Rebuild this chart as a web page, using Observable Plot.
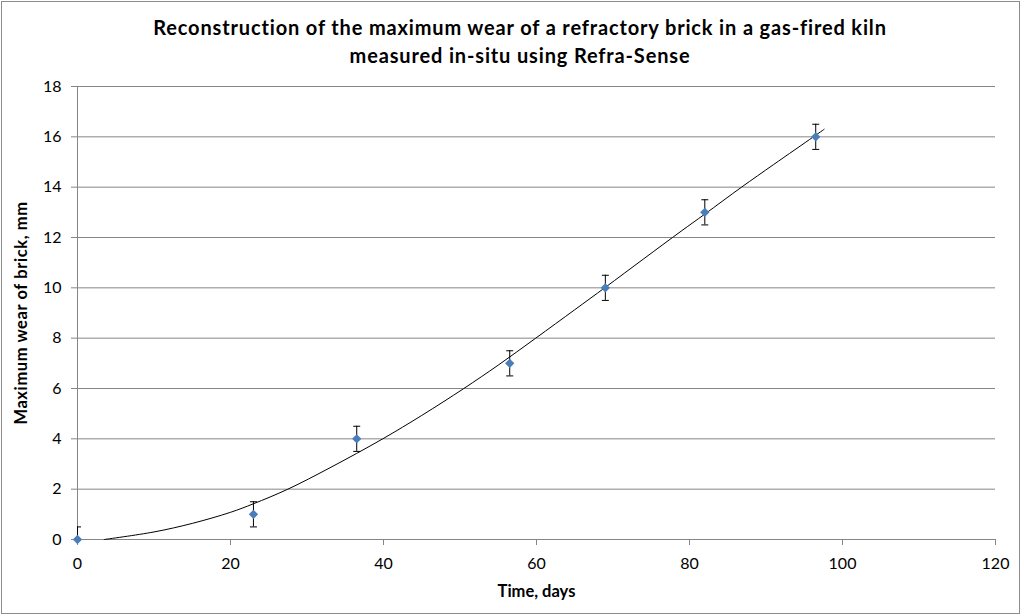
<!DOCTYPE html>
<html>
<head>
<meta charset="utf-8">
<script src="https://cdn.jsdelivr.net/npm/d3@7"></script>
<script src="https://cdn.jsdelivr.net/npm/@observablehq/plot@0.6"></script>
<style>
  html, body { margin: 0; padding: 0; background: #fff; }
  #wrap { position: relative; width: 1024px; height: 616px; overflow: hidden; font-family: Lato, "Open Sans", sans-serif; }
  #frame { position: absolute; left: 1px; top: 1px; width: 1019px; height: 613px; border: 1px solid #8c8c8c; box-sizing: border-box; pointer-events: none; }
  #title { position: absolute; left: 8px; width: 1024px; top: 13px; text-align: center; font-weight: bold; font-size: 20px; letter-spacing: 0.85px; line-height: 28px; color: #000; }
  #chart { position: absolute; left: 0; top: 0; }
</style>
</head>
<body>
<div id="wrap">
  <div id="chart"></div>
  <div id="title">Reconstruction of the maximum wear of a refractory brick in a gas-fired kiln<br>measured in-situ using Refra-Sense</div>
  <div id="frame"></div>
</div>
<script>
// Measured points
const days = [0, 23, 36.5, 56.5, 69, 82, 96.5];
const wearMm = [0, 1, 4, 7, 10, 13, 16];
const errMm = [0.5, 0.5, 0.5, 0.5, 0.5, 0.5, 0.5];

// Fitted trend line
const fitDays = [3.5, 10, 15, 20, 23, 27.5, 33, 39.9, 45, 50.5, 55, 59.9, 65, 69, 74, 78.9, 82, 86.8, 91, 96.2, 97.6];
const fitWear = [0, 0.3, 0.64, 1.08, 1.42, 2, 2.85, 4, 4.93, 6, 6.93, 8, 9.13, 10.02, 11.15, 12.25, 12.93, 14, 14.9, 16, 16.3];

// Axis ticks
const xTicks = [0, 20, 40, 60, 80, 100, 120];
const yTicks = [0, 2, 4, 6, 8, 10, 12, 14, 16, 18];

const points = days.map((t, i) => ({t, w: wearMm[i], lo: wearMm[i] - errMm[i], hi: wearMm[i] + errMm[i]}));
const fit = fitDays.map((t, i) => ({t, w: fitWear[i]}));

const cap = {
  draw(ctx) { ctx.moveTo(-3.5, 0); ctx.lineTo(3.5, 0); }
};

const axisColor = "#868686";

const chart = Plot.plot({
  width: 1024,
  height: 616,
  marginTop: 86,
  marginBottom: 77,
  marginLeft: 77,
  marginRight: 29,
  style: {fontFamily: "Lato, 'Open Sans', sans-serif", fontSize: "16px", color: "#000", background: "transparent"},
  x: {domain: [0, 120]},
  y: {domain: [0, 18]},
  marks: [
    Plot.gridY(yTicks, {stroke: axisColor, strokeOpacity: 1, strokeWidth: 1}),
    Plot.ruleX([0], {stroke: axisColor}),
    Plot.ruleY([0], {stroke: axisColor}),
    Plot.axisX(xTicks, {
      tickSize: 6, tickPadding: 12, stroke: axisColor, strokeOpacity: 1,
      label: "Time, days", labelAnchor: "center", labelOffset: 57, labelArrow: "none",
      fontSize: 16
    }),
    Plot.axisY(yTicks, {
      tickSize: 6, tickPadding: 10, stroke: axisColor, strokeOpacity: 1,
      label: "Maximum wear of brick, mm", labelAnchor: "center", labelOffset: 62, labelArrow: "none",
      fontSize: 16
    }),
    Plot.line(fit, {x: "t", y: "w", curve: "catmull-rom", stroke: "#000", strokeWidth: 1}),
    Plot.ruleX(points, {x: "t", y1: "lo", y2: "hi", stroke: "#000", strokeWidth: 1, clip: true}),
    Plot.dot(points, {x: "t", y: "hi", symbol: cap, r: 3, stroke: "#000", fill: "none", strokeWidth: 1, clip: true}),
    Plot.dot(points, {x: "t", y: "lo", symbol: cap, r: 3, stroke: "#000", fill: "none", strokeWidth: 1, clip: true}),
    Plot.dot(points, {x: "t", y: "w", symbol: "diamond2", r: 4.2, fill: "#4a7ebb", stroke: "none"})
  ]
});

// bold axis titles
d3.select(chart).selectAll("[aria-label='x-axis label'] text")
  .attr("font-weight", "bold").attr("font-size", 16.5);
d3.select(chart).selectAll("[aria-label='y-axis label'] text")
  .attr("font-weight", "bold").attr("font-size", 16.5).attr("letter-spacing", 0.6);

document.getElementById("chart").appendChild(chart);
</script>
</body>
</html>
